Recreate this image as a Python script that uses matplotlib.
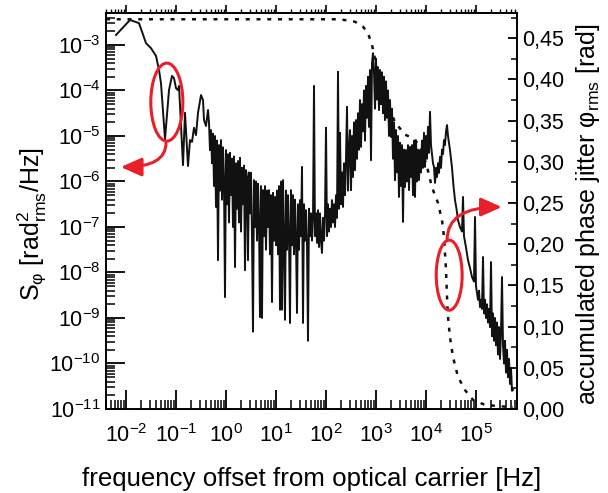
import matplotlib
matplotlib.use('Agg')
import matplotlib.pyplot as plt
import numpy as np
from matplotlib.patches import Ellipse
from matplotlib.ticker import LogLocator, MultipleLocator, FuncFormatter, NullFormatter

plt.rcParams['font.family'] = ['Liberation Sans', 'DejaVu Sans']
plt.rcParams['mathtext.fontset'] = 'custom'
plt.rcParams['mathtext.rm'] = 'Liberation Sans'
plt.rcParams['mathtext.it'] = 'Liberation Sans:italic'
plt.rcParams['mathtext.bf'] = 'Liberation Sans:bold'
plt.rcParams['mathtext.sf'] = 'Liberation Sans'

# ---- phase noise spectrum S_phi (values read as log10) ----
log10_freq = [
    -2.20, -1.92, -1.74, -1.60, -1.50, -1.40, -1.34, -1.30, -1.22, -1.14,
    -1.08, -1.04, -1.00, -0.96, -0.94, -0.86, -0.82, -0.76, -0.72, -0.68,
    -0.64, -0.60, -0.56, -0.50, -0.46, -0.44, -0.40, -0.36, -0.34,
    -0.32, -0.30, -0.28, -0.26, -0.24, -0.22, -0.20, -0.18, -0.16, -0.14,
    -0.12, -0.10, -0.08, -0.06, -0.04, -0.02, 0.00, 0.02, 0.04, 0.06,
    0.08, 0.10, 0.12, 0.14, 0.16, 0.18, 0.20, 0.22, 0.24, 0.26,
    0.28, 0.30, 0.32, 0.34, 0.36, 0.38, 0.40, 0.42, 0.44, 0.46,
    0.48, 0.50, 0.52, 0.54, 0.56, 0.58, 0.60, 0.62, 0.64, 0.66,
    0.68, 0.70, 0.72, 0.74, 0.76, 0.78, 0.80, 0.82, 0.84, 0.86,
    0.88, 0.90, 0.92, 0.94, 0.96, 0.98, 1.00, 1.02, 1.04, 1.06,
    1.08, 1.10, 1.12, 1.14, 1.16, 1.18, 1.20, 1.22, 1.24, 1.26,
    1.28, 1.30, 1.32, 1.34, 1.36, 1.38, 1.40, 1.42, 1.44, 1.46,
    1.48, 1.50, 1.52, 1.54, 1.56, 1.58, 1.60, 1.62, 1.64, 1.66,
    1.68, 1.70, 1.72, 1.74, 1.76, 1.78, 1.80, 1.82, 1.84, 1.86,
    1.88, 1.90, 1.92, 1.94, 1.96, 1.98, 2.00, 2.02, 2.04, 2.06,
    2.08, 2.10, 2.12, 2.14, 2.16, 2.18, 2.20, 2.22, 2.24, 2.26,
    2.28, 2.30, 2.32, 2.34, 2.36, 2.38, 2.40, 2.42, 2.44, 2.46,
    2.48, 2.50, 2.52, 2.54, 2.56, 2.58, 2.60, 2.62, 2.64, 2.66,
    2.68, 2.70, 2.72, 2.74, 2.76, 2.78, 2.80, 2.82, 2.84, 2.86,
    2.88, 2.90, 2.92, 2.94, 2.96, 2.98, 3.00, 3.02, 3.04, 3.06,
    3.08, 3.10, 3.12, 3.14, 3.16, 3.18, 3.20, 3.22, 3.24, 3.26,
    3.28, 3.30, 3.32, 3.34, 3.36, 3.38, 3.40, 3.42, 3.44, 3.46,
    3.48, 3.50, 3.52, 3.54, 3.56, 3.58, 3.60, 3.62, 3.64, 3.66,
    3.68, 3.70, 3.72, 3.74, 3.76, 3.78, 3.80, 3.82, 3.84, 3.86,
    3.88, 3.90, 3.92, 3.94, 3.96, 3.98, 4.00, 4.02, 4.04, 4.06,
    4.08, 4.10, 4.12, 4.14, 4.16, 4.18, 4.20, 4.22, 4.24, 4.26,
    4.28, 4.30, 4.32, 4.34, 4.36, 4.38, 4.40, 4.42, 4.44, 4.46,
    4.48, 4.52, 4.55, 4.58, 4.61, 4.64, 4.68, 4.72, 4.74, 4.76,
    4.80, 4.84, 4.88, 4.92, 4.96, 4.98, 5.00, 5.04, 5.06, 5.08,
    5.10, 5.12, 5.14, 5.16, 5.18, 5.20, 5.22, 5.24, 5.26, 5.28,
    5.30, 5.32, 5.34, 5.36, 5.38, 5.40, 5.42, 5.44, 5.46, 5.48,
    5.50, 5.52, 5.54, 5.56, 5.58, 5.60, 5.62, 5.64, 5.66, 5.68,
    5.70, 5.72, 5.74,
]
log10_psd = [
    -2.78, -2.45, -2.52, -2.96, -3.07, -3.24, -3.55, -3.84, -5.07, -3.99,
    -3.68, -3.73, -3.95, -3.99, -3.90, -5.64, -4.49, -5.66, -5.09, -5.13,
    -4.82, -4.98, -4.49, -4.10, -4.21, -4.65, -4.78, -4.43, -4.71,
    -5.31, -4.87, -5.60, -4.95, -6.10, -5.00, -6.56, -5.10, -7.73, -5.20,
    -6.20, -5.09, -6.40, -5.25, -6.00, -8.54, -5.31, -6.50, -5.40, -6.90,
    -5.37, -6.30, -5.50, -7.00, -5.45, -7.88, -5.60, -6.60, -5.55, -6.90,
    -5.48, -7.10, -5.70, -6.50, -5.65, -7.95, -5.75, -5.90, -7.73, -5.80,
    -6.70, -5.81, -7.20, -9.30, -5.97, -7.00, -6.00, -7.30, -6.05, -6.90,
    -8.98, -6.10, -9.00, -6.19, -7.20, -6.10, -7.50, -6.20, -7.00, -6.19,
    -7.60, -6.30, -8.65, -6.25, -7.30, -6.34, -7.40, -6.20, -7.60, -6.10,
    -8.82, -6.00, -8.82, -5.97, -7.30, -9.04, -6.20, -7.50, -6.30, -7.20,
    -9.11, -6.19, -7.40, -6.30, -7.60, -6.40, -7.30, -8.89, -6.50, -7.50,
    -6.41, -7.20, -5.68, -9.11, -6.50, -7.30, -6.63, -7.40, -9.50, -6.60,
    -7.20, -6.70, -7.30, -6.80, -3.90, -7.20, -6.70, -7.35, -6.63, -7.44,
    -6.70, -7.30, -7.57, -6.80, -7.30, -6.70, -4.82, -7.20, -6.50, -7.10,
    -6.60, -7.00, -6.41, -6.90, -6.50, -7.00, -6.30, -6.80, -3.59, -6.60,
    -4.93, -6.50, -5.80, -6.56, -5.60, -6.30, -5.50, -4.36, -6.20, -5.30,
    -4.87, -6.19, -5.00, -5.90, -4.70, -5.75, -4.65, -5.50, -4.50, -5.30,
    -4.21, -5.24, -4.30, -4.90, -4.00, -5.10, -3.90, -4.60, -3.70, -4.80,
    -3.55, -5.53, -3.40, -3.18, -3.60, -4.40, -3.30, -4.20, -3.50, -4.43,
    -3.55, -4.30, -3.60, -4.50, -3.70, -4.65, -3.80, -4.60, -4.00, -5.00,
    -4.21, -5.02, -4.40, -5.50, -4.70, -5.97, -4.87, -5.80, -5.00, -6.34,
    -5.15, -6.10, -5.20, -6.89, -5.30, -6.12, -5.31, -6.00, -5.20, -6.19,
    -5.24, -5.90, -5.20, -6.30, -5.10, -6.34, -5.09, -6.00, -5.30, -5.97,
    -5.31, -5.80, -5.10, -5.70, -4.93, -5.68, -5.00, -5.50, -4.80, -5.37,
    -4.47, -5.20, -5.40, -5.60, -5.68, -6.03, -5.70, -5.90, -5.60, -5.81,
    -5.46, -5.70, -5.30, -5.40, -5.09, -5.20, -4.90, -4.76, -5.00, -5.15,
    -5.31, -5.70, -6.10, -6.41, -6.60, -6.85, -7.00, -7.10, -6.34, -7.20,
    -7.45, -7.73, -7.90, -8.10, -8.20, -6.78, -8.30, -8.60, -8.40, -8.76,
    -8.60, -8.80, -7.66, -8.90, -8.60, -9.00, -8.70, -9.10, -8.80, -9.20,
    -7.77, -9.40, -8.90, -9.50, -9.00, -9.60, -9.10, -9.80, -9.20, -9.90,
    -9.30, -8.10, -9.60, -10.00, -9.50, -10.20, -9.70, -10.30, -9.90, -10.45,
    -10.10, -10.60, -10.58,
]

# ---- accumulated phase jitter (right axis) ----
log10_freq_jitter = [
    -2.40, 2.28, 2.58, 2.74, 2.84, 2.92, 2.96, 3.04, 3.12, 3.24,
    3.38, 3.58, 3.72, 3.88, 4.02, 4.12, 4.24, 4.32, 4.36, 4.38,
    4.40, 4.42, 4.44, 4.48, 4.54, 4.64, 4.78, 4.94, 5.18, 5.74,
]
phase_jitter = [
    0.473, 0.473, 0.470, 0.464, 0.456, 0.442, 0.430, 0.411, 0.390, 0.369,
    0.348, 0.333, 0.329, 0.320, 0.294, 0.269, 0.250, 0.229, 0.209, 0.189,
    0.169, 0.136, 0.112, 0.087, 0.063, 0.039, 0.023, 0.011, 0.005, 0.002,
]

right_ticks = [0.00, 0.05, 0.10, 0.15, 0.20, 0.25, 0.30, 0.35, 0.40, 0.45]

freq = 10.0 ** np.array(log10_freq)
psd = 10.0 ** np.array(log10_psd)
freq_j = 10.0 ** np.array(log10_freq_jitter)

fig = plt.figure(figsize=(6.08, 4.93), dpi=100)
ax = fig.add_axes([106 / 608, 1 - 409 / 493, 411 / 608, 396 / 493])
ax.plot(freq, psd, color='#111111', lw=1.4, zorder=3)
ax.set_xscale('log')
ax.set_yscale('log')
ax.set_xlim(10 ** -2.4, 10 ** 5.82)
ax.set_ylim(1e-11, 10 ** -2.297)

red = '#e8202a'
tick_fs = 15.5
ax.xaxis.set_major_locator(LogLocator(base=10, numticks=20))
ax.xaxis.set_minor_locator(LogLocator(base=10, subs=np.arange(2, 10), numticks=20))
ax.yaxis.set_major_locator(LogLocator(base=10, numticks=20))
ax.yaxis.set_minor_locator(LogLocator(base=10, subs=np.arange(2, 10), numticks=20))
ax.xaxis.set_minor_formatter(NullFormatter())
ax.yaxis.set_minor_formatter(NullFormatter())
ax.tick_params(axis='both', which='major', direction='in', length=13.5, width=1.3,
               color='black', labelsize=tick_fs, top=False, right=False,
               bottom=True, left=True)
ax.tick_params(axis='both', which='minor', direction='in', length=6.5, width=1.1,
               color='black', top=False, right=False, bottom=True, left=True)
ax.tick_params(axis='x', which='major', pad=11)
ax.tick_params(axis='y', which='major', pad=4)
for s in ax.spines.values():
    s.set_linewidth(1.2)

sec = ax.secondary_xaxis('top')
sec.xaxis.set_major_locator(LogLocator(base=10, numticks=20))
sec.xaxis.set_minor_locator(LogLocator(base=10, subs=np.arange(2, 10), numticks=20))
sec.tick_params(axis='x', which='major', direction='out', length=6, width=1.2,
                labeltop=False, labelbottom=False)
sec.tick_params(axis='x', which='minor', direction='out', length=3, width=1.0,
                labeltop=False, labelbottom=False)
sec.spines['top'].set_linewidth(1.2)

ax.set_xlabel('frequency offset from optical carrier [Hz]', fontsize=18.6, labelpad=14)
ax.set_ylabel(r'S$_{\mathrm{φ}}$ [rad$^2_{\rm rms}$/Hz]', fontsize=18)
ax.yaxis.set_label_coords(-0.139, 0.468)

ax2 = ax.twinx()
ax2.plot(freq_j, phase_jitter, color='#111111', lw=1.8, linestyle=(0, (1.6, 2.7)), zorder=2)
ax2.set_ylim(0, 0.4806)
ax2.set_yticks(right_ticks)
ax2.yaxis.set_minor_locator(MultipleLocator(0.025))
ax2.yaxis.set_major_formatter(FuncFormatter(lambda v, p: f"{v:.2f}".replace('.', ',')))
ax2.tick_params(axis='y', which='major', direction='in', length=6.5, width=1.3,
                color='black', labelsize=tick_fs, pad=4, right=True)
ax2.tick_params(axis='y', which='minor', direction='in', length=4, width=1.1,
                color='black', right=True)
for s in ax2.spines.values():
    s.set_linewidth(1.2)
ax2.set_ylabel(r'accumulated phase jitter φ$_{\rm rms}$ [rad]', fontsize=18)
ax2.yaxis.set_label_coords(1.139, 0.492)

# ---- red annotations ----
ax2.add_patch(Ellipse((0.148, 0.775), 0.078, 0.197, transform=ax2.transAxes,
                      fill=False, edgecolor=red, lw=2.2, zorder=5))
ax2.add_patch(Ellipse((0.835, 0.338), 0.063, 0.177, transform=ax2.transAxes,
                      fill=False, edgecolor=red, lw=2.2, zorder=5))
ax2.annotate('', xy=(0.036, 0.611), xycoords='axes fraction',
             xytext=(0.146, 0.672), textcoords='axes fraction',
             arrowprops=dict(arrowstyle='-|>,head_length=0.9,head_width=0.4',
                             mutation_scale=14, color=red, lw=2.2,
                             shrinkA=0, shrinkB=0,
                             connectionstyle='angle3,angleA=90,angleB=0'),
             zorder=6)
ax2.annotate('', xy=(0.963, 0.510), xycoords='axes fraction',
             xytext=(0.830, 0.427), textcoords='axes fraction',
             arrowprops=dict(arrowstyle='-|>,head_length=0.9,head_width=0.4',
                             mutation_scale=14, color=red, lw=2.2,
                             shrinkA=0, shrinkB=0,
                             connectionstyle='angle3,angleA=90,angleB=0'),
             zorder=6)

fig.savefig('out.png', dpi=100)
